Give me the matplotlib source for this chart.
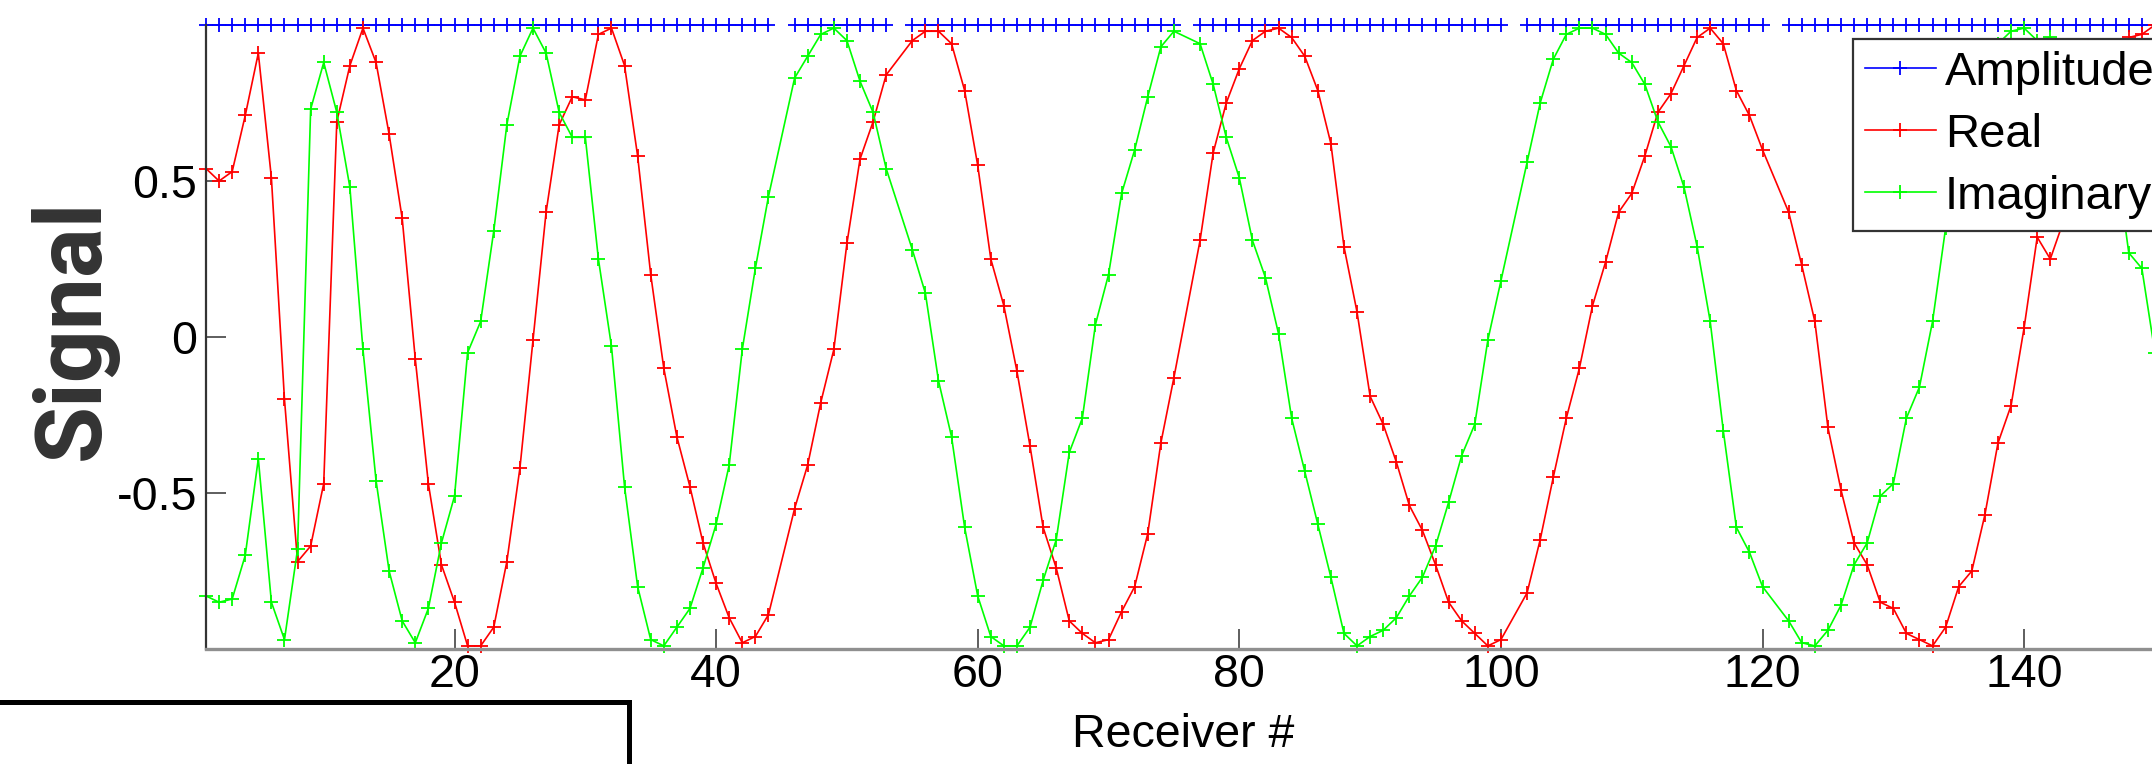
import numpy as np
import matplotlib
matplotlib.use("Agg")
import matplotlib.pyplot as plt
from matplotlib.patches import Rectangle

nan = np.nan

# ---------------- data ----------------
receivers = list(range(1, 151))

amplitude = [
    1, 1, 1, 1, 1, 1, 1, 1, 1, 1,
    1, 1, 1, 1, 1, 1, 1, 1, 1, 1,
    1, 1, 1, 1, 1, 1, 1, 1, 1, 1,
    1, 1, 1, 1, 1, 1, 1, 1, 1, 1,
    1, 1, 1, 1, nan, 1, 1, 1, 1, 1,
    1, 1, 1, nan, 1, 1, 1, 1, 1, 1,
    1, 1, 1, 1, 1, 1, 1, 1, 1, 1,
    1, 1, 1, 1, 1, nan, 1, 1, 1, 1,
    1, 1, 1, 1, 1, 1, 1, 1, 1, 1,
    1, 1, 1, 1, 1, 1, 1, 1, 1, 1,
    nan, 1, 1, 1, 1, 1, 1, 1, 1, 1,
    1, 1, 1, 1, 1, 1, 1, 1, 1, 1,
    nan, 1, 1, 1, 1, 1, 1, 1, 1, 1,
    1, 1, 1, 1, 1, 1, 1, 1, 1, 1,
    1, 1, 1, 1, 1, 1, 1, 1, 1, 1,
]

real_part = [
    0.54, 0.50, 0.53, 0.71, 0.91, 0.51, -0.20, -0.72, -0.67, -0.47,
    0.69, 0.87, 0.99, 0.88, 0.65, 0.38, -0.07, -0.47, -0.73, -0.85,
    -0.99, -0.99, -0.93, -0.72, -0.42, -0.01, 0.40, 0.68, 0.77, 0.76,
    0.97, 0.99, 0.87, 0.58, 0.20, -0.10, -0.32, -0.48, -0.66, -0.79,
    -0.90, -0.98, -0.96, -0.89, nan, -0.55, -0.41, -0.21, -0.04, 0.30,
    0.57, 0.69, 0.84, nan, 0.95, 0.98, 0.98, 0.94, 0.79, 0.55,
    0.25, 0.10, -0.11, -0.35, -0.61, -0.74, -0.91, -0.95, -0.98, -0.97,
    -0.88, -0.80, -0.63, -0.34, -0.13, nan, 0.31, 0.59, 0.75, 0.86,
    0.95, 0.98, 0.99, 0.96, 0.90, 0.79, 0.62, 0.29, 0.08, -0.19,
    -0.28, -0.40, -0.54, -0.62, -0.73, -0.85, -0.91, -0.95, -0.99, -0.97,
    nan, -0.82, -0.65, -0.45, -0.26, -0.10, 0.10, 0.24, 0.40, 0.46,
    0.58, 0.72, 0.78, 0.87, 0.96, 0.99, 0.94, 0.79, 0.71, 0.60,
    nan, 0.40, 0.23, 0.05, -0.29, -0.49, -0.66, -0.73, -0.85, -0.87,
    -0.95, -0.97, -0.99, -0.93, -0.80, -0.75, -0.57, -0.34, -0.22, 0.03,
    0.32, 0.25, 0.37, 0.48, 0.60, 0.71, 0.81, 0.96, 0.97, 1.00,
]

imag_part = [
    -0.83, -0.85, -0.84, -0.70, -0.39, -0.85, -0.97, -0.68, 0.73, 0.88,
    0.72, 0.48, -0.04, -0.46, -0.75, -0.91, -0.98, -0.87, -0.66, -0.51,
    -0.05, 0.05, 0.34, 0.68, 0.90, 0.99, 0.91, 0.72, 0.64, 0.64,
    0.25, -0.03, -0.48, -0.80, -0.97, -0.99, -0.93, -0.87, -0.74, -0.60,
    -0.41, -0.04, 0.22, 0.45, nan, 0.83, 0.90, 0.97, 0.99, 0.95,
    0.82, 0.72, 0.54, nan, 0.28, 0.14, -0.14, -0.32, -0.61, -0.83,
    -0.96, -0.99, -0.99, -0.93, -0.78, -0.65, -0.37, -0.26, 0.04, 0.20,
    0.46, 0.60, 0.77, 0.93, 0.98, nan, 0.94, 0.81, 0.64, 0.51,
    0.31, 0.19, 0.01, -0.26, -0.43, -0.60, -0.77, -0.95, -0.99, -0.96,
    -0.94, -0.90, -0.83, -0.77, -0.67, -0.53, -0.38, -0.28, -0.01, 0.18,
    nan, 0.56, 0.75, 0.89, 0.97, 0.99, 0.99, 0.97, 0.91, 0.88,
    0.81, 0.69, 0.61, 0.48, 0.29, 0.05, -0.30, -0.61, -0.69, -0.80,
    nan, -0.91, -0.98, -0.99, -0.94, -0.86, -0.73, -0.66, -0.51, -0.47,
    -0.26, -0.16, 0.05, 0.35, 0.60, 0.66, 0.82, 0.94, 0.98, 0.99,
    0.95, 0.96, 0.93, 0.88, 0.80, 0.70, 0.58, 0.27, 0.22, -0.05,
]

series_names = ["Amplitude", "Real", "Imaginary"]
x_ticks = [20, 40, 60, 80, 100, 120, 140]
y_ticks = [-0.5, 0, 0.5]
y_tick_labels = ["-0.5", "0", "0.5"]
x_label = "Receiver #"
y_label = "Signal"

# ---------------- layout ----------------
W, H = 2152, 764
plt.rcParams["font.family"] = ["Liberation Sans", "DejaVu Sans"]
fig = plt.figure(figsize=(W / 100, H / 100), dpi=100)
fig.patch.set_facecolor("white")

x_left_px, px_per_unit = 206, 13.08
x_range = (1, 152)
y_top_px, y_bot_px = 25, 649
ax = fig.add_axes([
    x_left_px / W,
    1 - y_bot_px / H,
    (x_range[1] - x_range[0]) * px_per_unit / W,
    (y_bot_px - y_top_px) / H,
])
ax.set_facecolor("none")

rx = np.array(receivers, dtype=float)


def finite(vals):
    v = np.array(vals, dtype=float)
    m = np.isfinite(v)
    return rx[m], v[m]


common = dict(marker="+", ms=10, mew=1.3, lw=1.2, clip_on=False)
ax.plot(rx, np.array(amplitude, dtype=float), color=(0, 0, 1), label=series_names[0], **common)
xr, yr = finite(real_part)
ax.plot(xr, yr, color=(1, 0, 0), label=series_names[1], **common)
xi, yi = finite(imag_part)
ax.plot(xi, yi, color=(0, 1, 0), label=series_names[2], **common)

ax.set_xlim(*x_range)
ax.set_ylim(-1, 1)
ax.set_xticks(x_ticks)
ax.set_xticklabels([str(t) for t in x_ticks])
ax.set_yticks(y_ticks)
ax.set_yticklabels(y_tick_labels)

ax.spines["top"].set_visible(False)
ax.spines["right"].set_visible(False)
ax.spines["left"].set_color("#333333")
ax.spines["left"].set_linewidth(1.6)
ax.spines["bottom"].set_color("#8f8f8f")
ax.spines["bottom"].set_linewidth(2.4)

ax.tick_params(axis="both", direction="in", length=14.4, width=1.1,
               color="#333333", labelsize=33.5, labelcolor="black")
ax.tick_params(axis="x", pad=3)
ax.tick_params(axis="y", pad=6.5)

ax.set_xlabel(x_label, fontsize=33.5)
ax.xaxis.set_label_coords(1183 / W, 1 - 713 / H, transform=fig.transFigure)

ax.set_ylabel(y_label, fontsize=67, fontfamily=["Roboto", "Lato"], fontweight="bold", color="#333333")
ax.yaxis.set_label_coords(118 / W, 1 - 329 / H, transform=fig.transFigure)

leg = ax.legend(loc="upper left", bbox_to_anchor=(1853 / W, 1 - 39 / H),
                bbox_transform=fig.transFigure, borderaxespad=0,
                fontsize=34, numpoints=1, handlelength=1.5, handletextpad=0.2,
                borderpad=0.25, labelspacing=0.38, fancybox=False, shadow=False,
                framealpha=1, edgecolor="#333333")
leg.get_frame().set_linewidth(1.6)

# boxed panel at lower-left (part of the screenshot)
rect = Rectangle((-0.01, -0.2), 629 / W + 0.01, 0.2 + (1 - 702 / H),
                 transform=fig.transFigure, facecolor="white", edgecolor="black",
                 linewidth=3.6, clip_on=False)
fig.add_artist(rect)

fig.savefig("out.png", dpi=100)
